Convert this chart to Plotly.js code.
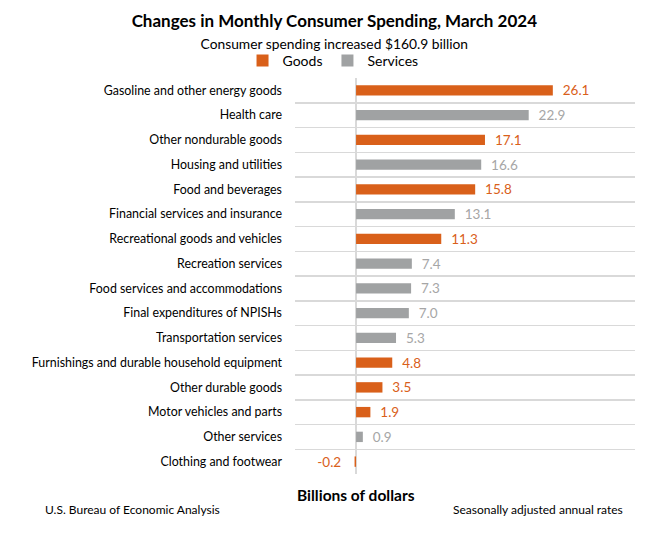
<!DOCTYPE html>
<html>
<head>
<meta charset="utf-8">
<script src="https://cdn.plot.ly/plotly-3.0.1.min.js"></script>
<style>html,body{margin:0;padding:0;background:#fff;}#chart{width:653px;height:540px;}</style>
</head>
<body>
<div id="chart"></div>
<script>
const categories = [
  "Gasoline and other energy goods",
  "Health care",
  "Other nondurable goods",
  "Housing and utilities",
  "Food and beverages",
  "Financial services and insurance",
  "Recreational goods and vehicles",
  "Recreation services",
  "Food services and accommodations",
  "Final expenditures of NPISHs",
  "Transportation services",
  "Furnishings and durable household equipment",
  "Other durable goods",
  "Motor vehicles and parts",
  "Other services",
  "Clothing and footwear"
];
const goodsCategories = [
  "Gasoline and other energy goods",
  "Other nondurable goods",
  "Food and beverages",
  "Recreational goods and vehicles",
  "Furnishings and durable household equipment",
  "Other durable goods",
  "Motor vehicles and parts",
  "Clothing and footwear"
];
const goodsValues = [26.1, 17.1, 15.8, 11.3, 4.8, 3.5, 1.9, -0.2];
const servicesCategories = [
  "Health care",
  "Housing and utilities",
  "Financial services and insurance",
  "Recreation services",
  "Food services and accommodations",
  "Final expenditures of NPISHs",
  "Transportation services",
  "Other services"
];
const servicesValues = [22.9, 16.6, 13.1, 7.4, 7.3, 7.0, 5.3, 0.9];

const FONT = "Lato, 'Open Sans', sans-serif";
const ORANGE = "#D9601A";
const GRAY = "#A0A2A3";

const PAD = "\u00A0\u00A0";
const fmt = v => v < 0 ? v.toFixed(1) + PAD + "\u00A0" : PAD + v.toFixed(1);

const traces = [
  {
    type: "bar", orientation: "h", name: "Goods",
    y: goodsCategories, x: goodsValues,
    marker: {color: ORANGE},
    text: goodsValues.map(fmt), textposition: "outside", cliponaxis: false,
    constraintext: "none",
    textfont: {color: ORANGE, size: 13.5, family: FONT},
    hoverinfo: "skip"
  },
  {
    type: "bar", orientation: "h", name: "Services",
    y: servicesCategories, x: servicesValues,
    marker: {color: GRAY},
    text: servicesValues.map(fmt), textposition: "outside", cliponaxis: false,
    constraintext: "none",
    textfont: {color: "#A6A6A6", size: 13.5, family: FONT},
    hoverinfo: "skip"
  }
];

const layout = {
  width: 653, height: 540,
  margin: {l: 295, r: 18, t: 78, b: 66},
  paper_bgcolor: "#fff", plot_bgcolor: "#fff",
  font: {family: FONT, color: "#000"},
  barmode: "overlay",
  bargap: 0.58,
  showlegend: true,
  title: {
    text: "<b>Changes in Monthly Consumer Spending, March 2024</b><br><span style='font-size:13.8px'>Consumer spending increased $160.9 billion</span>",
    font: {family: FONT, size: 17, color: "#000"},
    x: 0.512, xanchor: "center", y: 0.95, yanchor: "top"
  },
  legend: {
    orientation: "h", xref: "container", x: 0.51, xanchor: "center",
    yref: "container", y: 1 - 45/540, yanchor: "top",
    font: {family: FONT, size: 14, color: "#000"},
    itemwidth: 30, traceorder: "normal", tracegroupgap: 0
  },
  xaxis: {
    range: [-8.1, 37],
    showticklabels: false, ticks: "",
    showgrid: false,
    zeroline: true, zerolinecolor: "#D9D9D9", zerolinewidth: 1.5,
    fixedrange: true
  },
  yaxis: {
    type: "category",
    categoryorder: "array", categoryarray: categories,
    autorange: "reversed",
    tickson: "boundaries",
    showgrid: true, gridcolor: "#D9D9D9", gridwidth: 1.5,
    ticks: "", ticklen: 0,
    tickfont: {family: FONT, size: 12.4, color: "#000"},
    ticklabelstandoff: 12,
    showline: false,
    fixedrange: true
  },
  annotations: [
    {text: "<b>Billions of dollars</b>", xref: "paper", yref: "paper",
     x: 0, xanchor: "left", y: -0.053, yanchor: "middle", showarrow: false,
     font: {family: FONT, size: 15.5, color: "#000"}},
    {text: "U.S. Bureau of Economic Analysis", xref: "paper", yref: "paper",
     x: -0.742, xanchor: "left", y: -0.09, yanchor: "middle", showarrow: false,
     font: {family: FONT, size: 12, color: "#000"}},
    {text: "Seasonally adjusted annual rates", xref: "paper", yref: "paper",
     x: 0.97, xanchor: "right", y: -0.09, yanchor: "middle", showarrow: false,
     font: {family: FONT, size: 12, color: "#000"}}
  ]
};

Plotly.newPlot("chart", traces, layout, {displayModeBar: false, staticPlot: true});
</script>
</body>
</html>
